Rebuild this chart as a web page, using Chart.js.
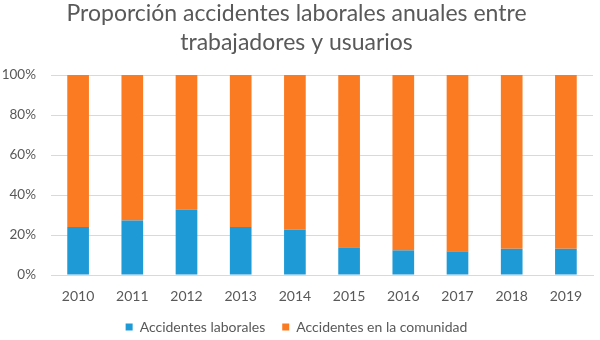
<!DOCTYPE html>
<html>
<head>
<meta charset="utf-8">
<script src="https://cdn.jsdelivr.net/npm/chart.js@4/dist/chart.umd.min.js"></script>
<style>
  html, body { margin: 0; padding: 0; background: #fff; }
  #wrap { width: 600px; height: 340px; }
</style>
</head>
<body>
<div id="wrap"><canvas id="chart" width="600" height="340"></canvas></div>
<script>
// años y proporciones (%)
const years = ["2010", "2011", "2012", "2013", "2014", "2015", "2016", "2017", "2018", "2019"];
const laborales = [24, 27.3, 32.8, 24, 22.6, 13.8, 12.3, 11.8, 13.1, 13.1];
const comunidad = [76, 72.7, 67.2, 76, 77.4, 86.2, 87.7, 88.2, 86.9, 86.9];
const yTicks = [0, 20, 40, 60, 80, 100];

const textGray = "#595959";
const gridGray = "#d9d9d9";
const font = "Lato, 'Open Sans', sans-serif";

new Chart(document.getElementById("chart"), {
  type: "bar",
  data: {
    labels: years,
    datasets: [
      {
        label: "Accidentes laborales",
        data: laborales,
        backgroundColor: "#1e9ad6",
        barPercentage: 0.4,
        categoryPercentage: 1
      },
      {
        label: "Accidentes en la comunidad",
        data: comunidad,
        backgroundColor: "#fb7b23",
        barPercentage: 0.4,
        categoryPercentage: 1
      }
    ]
  },
  options: {
    responsive: false,
    animation: false,
    layout: { padding: { left: 0, right: 7, top: 0, bottom: -4 } },
    plugins: {
      title: {
        display: true,
        text: ["Proporción accidentes laborales anuales entre", "trabajadores y usuarios"],
        color: textGray,
        font: { family: font, size: 23, weight: "normal", lineHeight: 1.22 },
        padding: { top: 0, bottom: 19 }
      },
      legend: {
        position: "bottom",
        labels: {
          color: textGray,
          font: { family: font, size: 14 },
          boxWidth: 7,
          boxHeight: 7,
          padding: 17
        }
      },
      tooltip: { enabled: false }
    },
    scales: {
      x: {
        stacked: true,
        afterFit: axis => { axis.height = 28; },
        grid: { display: false, drawTicks: false },
        border: { color: gridGray },
        ticks: { color: textGray, font: { family: font, size: 14, lineHeight: 1 }, padding: 14 }
      },
      y: {
        stacked: true,
        min: 0,
        max: 100,
        afterBuildTicks: axis => { axis.ticks = yTicks.map(v => ({ value: v })); },
        afterFit: axis => { axis.width = 51; },
        grid: { color: gridGray, drawTicks: false },
        border: { display: false },
        ticks: {
          color: textGray,
          font: { family: font, size: 13.5 },
          padding: 15,
          callback: v => v + "%"
        }
      }
    }
  }
});
</script>
</body>
</html>
